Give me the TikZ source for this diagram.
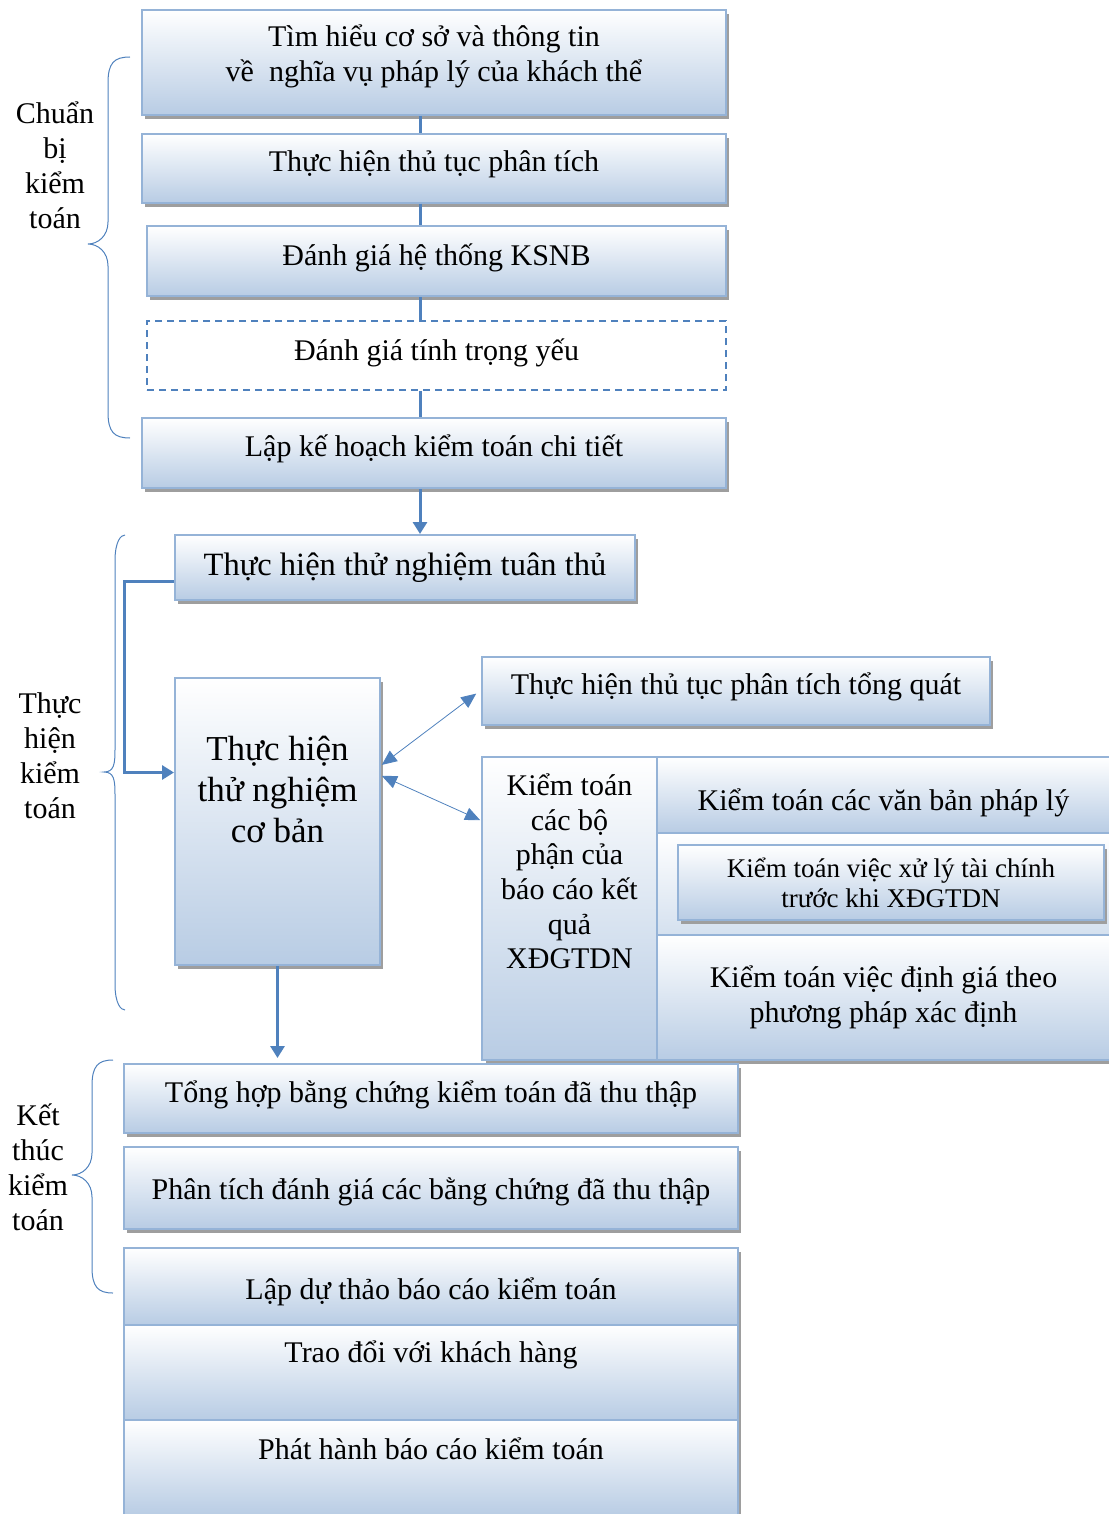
\documentclass[tikz,border=0pt]{standalone}
\usepackage{fontspec}
\setmainfont{Liberation Serif}
\usetikzlibrary{shadows,arrows.meta,calc}
\definecolor{bfill}{RGB}{184,204,228}
\definecolor{bline}{RGB}{149,179,215}
\definecolor{cline}{RGB}{79,129,189}
\definecolor{shd}{gray}{0.62}
\tikzset{
 box/.style={draw=bline, line width=2pt, top color=white, bottom color=bfill, inner sep=0pt, align=center, font=\fontsize{30}{35}\selectfont, text=black},
 shad/.style={drop shadow={fill=shd, opacity=1, shadow xshift=3pt, shadow yshift=-4pt}},
 dbox/.style={draw=cline, line width=1.5pt, dash pattern=on 7pt off 5pt, inner sep=0pt, align=center, font=\fontsize{30}{35}\selectfont},
 conn/.style={draw=cline, line width=3pt},
 bigarr/.style={draw=cline, line width=3pt, -{Triangle[width=14pt,length=12pt]}},
 thinarr/.style={draw=cline, line width=0.8pt, {Triangle[width=13pt,length=15pt]}-{Triangle[width=13pt,length=15pt]}},
 bracestyle/.style={draw=cline, line width=1pt},
 lbl/.style={align=center, font=\fontsize{30}{35}\selectfont},
 txt/.style={align=center, font=\fontsize{30}{35}\selectfont},
}
\newcommand\mybrace[6]{% xend, xspine, xtip, ytop, ymid, ybot
 \draw[bracestyle] (#1,#4) .. controls ({#2+6},#4) and (#2,{#4+6}) .. (#2,{#4+26})
   -- (#2,{#5-22}) .. controls (#2,{#5-8}) and ({#3+10},#5) .. (#3,#5)
   .. controls ({#3+10},#5) and (#2,{#5+8}) .. (#2,{#5+22})
   -- (#2,{#6-26}) .. controls (#2,{#6-6}) and ({#2+6},#6) .. (#1,#6);}
\begin{document}
\begin{tikzpicture}[x=1pt,y=-1pt]
\useasboundingbox (0,0) rectangle (1108,1514);
\coordinate (vx) at (420,0);
% top section
\node[box,shad,minimum width=584pt,minimum height=105pt] (n1) at (434,62.5) {};
\node[txt] (n1t) at (434,56) {Tìm hiểu cơ sở và thông tin\\về\ \ nghĩa vụ pháp lý của khách thể};
\node[box,shad,minimum width=584pt,minimum height=69pt] (n2) at (434,168.5) {};
\node[txt] (n2t) at (434,164) {Thực hiện thủ tục phân tích};
\node[box,shad,minimum width=579pt,minimum height=70pt] (n3) at (436.5,261) {};
\node[txt] (n3t) at (436.5,257.5) {Đánh giá hệ thống KSNB};
\node[dbox,minimum width=579pt,minimum height=69pt] (n4) at (436.5,355.5) {};
\node[txt] (n4t) at (436.5,353) {Đánh giá tính trọng yếu};
\node[box,shad,minimum width=584pt,minimum height=70pt] (n5) at (434,453) {};
\node[txt] (n5t) at (434,449) {Lập kế hoạch kiểm toán chi tiết};
\draw[conn] (n1.south -| vx) -- (n2.north -| vx);
\draw[conn] (n2.south -| vx) -- (n3.north -| vx);
\draw[conn] (n3.south -| vx) -- (n4.north -| vx);
\draw[conn] (n4.south -| vx) -- (n5.north -| vx);
% middle section
\node[box,shad,minimum width=460pt,minimum height=65pt,font=\fontsize{32.5}{38}\selectfont] (n6) at (405,567.5) {Thực hiện thử nghiệm tuân thủ};
\draw[bigarr] (n5.south -| vx) -- (n6.north -| vx);
\node[box,shad,minimum width=205pt,minimum height=287pt] (n7) at (277.5,821.5) {};
\node[txt,font=\fontsize{35}{41}\selectfont] (n7t) at (277.5,789) {Thực hiện\\thử nghiệm\\cơ bản};
\draw[bigarr] ([yshift=-14pt]n6.west) -- ++(-50,0) |- ([yshift=49pt]n7.west);
\node[box,shad,minimum width=508pt,minimum height=68pt] (n8) at (736,691) {};
\node[txt] (n8t) at (736,687) {Thực hiện thủ tục phân tích tổng quát};
% composite block
\fill[shd] (486,761) rectangle (1112,1064);
\node[box,minimum width=175pt,minimum height=303pt] (c0) at (569.5,908.5) {};
\node[txt,font=\fontsize{30}{34.6}\selectfont] (c0t) at (569.5,871.5) {Kiểm toán\\các bộ\\phận của\\báo cáo kết\\quả\\XĐGTDN};
\node[box,minimum width=453pt,minimum height=76pt] (c1) at (883.5,795) {};
\node[txt] (c1t) at (883.5,803) {Kiểm toán các văn bản pháp lý};
\node[box,minimum width=453pt,minimum height=102pt,bottom color=bfill!60] (c2) at (883.5,884) {};
\node[box,shad,minimum width=426pt,minimum height=75pt,font=\fontsize{27}{30}\selectfont] (c2i) at (891,882.5) {Kiểm toán việc xử lý tài chính\\trước khi XĐGTDN};
\node[box,minimum width=453pt,minimum height=125pt] (c3) at (883.5,997.5) {};
\node[txt] (c3t) at (883.5,997) {Kiểm toán việc định giá theo\\phương pháp xác định};
\draw[thinarr,shorten <=1pt,shorten >=6pt] ([yshift=56pt]n7.east) -- ([yshift=1pt]n8.west);
\draw[thinarr,shorten <=1pt,shorten >=1pt] ([yshift=46pt]n7.east) -- ([yshift=88pt]c0.west);
% bottom section
\node[box,shad,minimum width=614pt,minimum height=69pt] (n10) at (431,1098.5) {};
\node[txt] (n10t) at (431,1095) {Tổng hợp bằng chứng kiểm toán đã thu thập};
\draw[bigarr,shorten >=5pt] (n7.south) -- (n10.north -| n7.south);
\node[box,shad,minimum width=614pt,minimum height=82pt] (n11) at (431,1188) {};
\node[txt] (n11t) at (431,1192) {Phân tích đánh giá các bằng chứng đã thu thập};
\fill[shd] (127,1252) rectangle (741,1520);
\node[box,minimum width=614pt,minimum height=77pt] (s1) at (431,1286.5) {};
\node[txt] (s1t) at (431,1292) {Lập dự thảo báo cáo kiểm toán};
\node[box,minimum width=614pt,minimum height=95pt] (s2) at (431,1372.5) {};
\node[txt] (s2t) at (431,1355) {Trao đổi với khách hàng};
\node[box,minimum width=614pt,minimum height=96pt] (s3) at (431,1468) {};
\node[txt] (s3t) at (431,1449) {Phát hành báo cáo kiểm toán};
% braces and labels
\mybrace{130}{108}{88}{57}{244}{438}
\node[lbl] (L1) at (55,165) {Chuẩn\\bị\\kiểm\\toán};
\mybrace{125}{115}{104}{535}{772}{1010}
\node[lbl] (L2) at (50,756) {Thực\\hiện\\kiểm\\toán};
\mybrace{113}{92}{72}{1060}{1175}{1293}
\node[lbl] (L3) at (38,1167) {Kết\\thúc\\kiểm\\toán};
\end{tikzpicture}
\end{document}
